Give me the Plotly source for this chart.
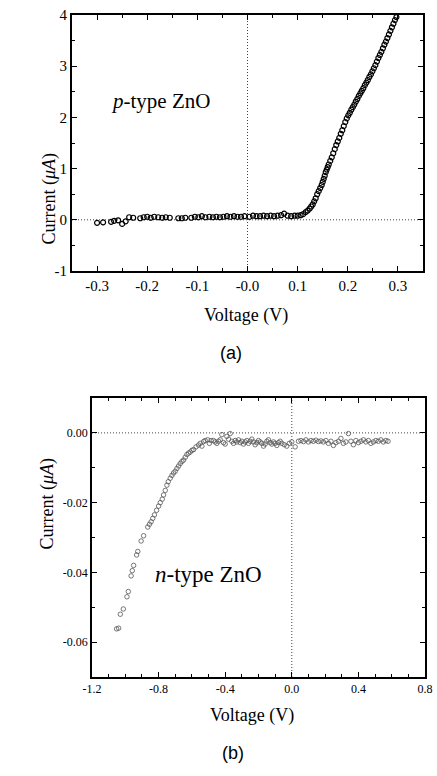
import plotly.graph_objects as go

# ---------------- Panel (a): p-type ZnO ----------------
voltage_a = [-0.300, -0.288, -0.272, -0.266, -0.258, -0.250, -0.243, -0.236, -0.228, -0.214,
             -0.207, -0.200, -0.193, -0.186, -0.178, -0.170, -0.163, -0.155, -0.138, -0.131,
             -0.124, -0.112, -0.105, -0.098, -0.091, -0.084, -0.076, -0.069, -0.062, -0.055,
             -0.048, -0.041, -0.034, -0.027, -0.020, -0.013, -0.006, 0.004, 0.011, 0.018,
             0.025, 0.032, 0.039, 0.046, 0.053, 0.060, 0.067, 0.073, 0.080, 0.087,
             0.094, 0.100, 0.106, 0.111, 0.116, 0.120, 0.124, 0.127, 0.130, 0.133,
             0.136, 0.139, 0.142, 0.145, 0.148, 0.150, 0.152, 0.154, 0.156, 0.158,
             0.160, 0.162, 0.165, 0.168, 0.171, 0.174, 0.177, 0.180, 0.183, 0.186,
             0.189, 0.192, 0.195, 0.198, 0.201, 0.204, 0.207, 0.210, 0.213, 0.216,
             0.219, 0.222, 0.225, 0.228, 0.231, 0.234, 0.237, 0.240, 0.243, 0.246,
             0.249, 0.252, 0.255, 0.258, 0.261, 0.264, 0.267, 0.270, 0.273, 0.276,
             0.279, 0.282, 0.285, 0.288, 0.291, 0.294, 0.297]
current_a = [-0.06, -0.05, -0.04, -0.02, -0.01, -0.08, -0.03, 0.05, 0.04, 0.03,
             0.05, 0.06, 0.04, 0.06, 0.05, 0.04, 0.05, 0.04, 0.03, 0.03,
             0.04, 0.04, 0.06, 0.05, 0.07, 0.05, 0.06, 0.05, 0.06, 0.05,
             0.06, 0.07, 0.06, 0.07, 0.06, 0.06, 0.07, 0.06, 0.08, 0.07,
             0.07, 0.08, 0.07, 0.08, 0.07, 0.08, 0.09, 0.12, 0.08, 0.07,
             0.08, 0.08, 0.09, 0.11, 0.15, 0.18, 0.22, 0.26, 0.30, 0.36,
             0.42, 0.50, 0.56, 0.62, 0.68, 0.74, 0.80, 0.86, 0.93, 0.98,
             1.03, 1.08, 1.15, 1.22, 1.30, 1.38, 1.46, 1.53, 1.60, 1.68,
             1.75, 1.83, 1.91, 1.98, 2.04, 2.09, 2.15, 2.20, 2.25, 2.31,
             2.36, 2.42, 2.47, 2.52, 2.57, 2.63, 2.68, 2.73, 2.79, 2.84,
             2.90, 2.96, 3.02, 3.09, 3.16, 3.22, 3.28, 3.35, 3.42, 3.48,
             3.55, 3.62, 3.69, 3.76, 3.83, 3.90, 3.96]

xtick_vals_a = [-0.3, -0.2, -0.1, 0.0, 0.1, 0.2, 0.3]
xtick_text_a = ["-0.3", "-0.2", "-0.1", "-0.0", "0.1", "0.2", "0.3"]
ytick_vals_a = [-1, 0, 1, 2, 3, 4]
ytick_text_a = ["-1", "0", "1", "2", "3", "4"]

# ---------------- Panel (b): n-type ZnO ----------------
voltage_b = [-1.052, -1.040, -1.030, -1.012, -0.990, -0.982, -0.965, -0.958, -0.950, -0.932,
             -0.925, -0.905, -0.890, -0.865, -0.855, -0.845, -0.835, -0.825, -0.812, -0.800,
             -0.790, -0.778, -0.770, -0.760, -0.750, -0.742, -0.730, -0.720, -0.710, -0.700,
             -0.690, -0.680, -0.670, -0.660, -0.650, -0.640, -0.630, -0.620, -0.610, -0.600,
             -0.590, -0.575, -0.560, -0.550, -0.540, -0.530, -0.520, -0.505, -0.495, -0.485,
             -0.470, -0.460, -0.450, -0.440, -0.430, -0.420, -0.410, -0.400, -0.390, -0.380,
             -0.370, -0.360, -0.350, -0.340, -0.330, -0.320, -0.310, -0.300, -0.290, -0.280,
             -0.270, -0.260, -0.250, -0.240, -0.230, -0.220, -0.210, -0.200, -0.190, -0.180,
             -0.170, -0.160, -0.150, -0.140, -0.130, -0.120, -0.110, -0.100, -0.090, -0.080,
             -0.070, -0.060, -0.045, -0.030, -0.015, 0.000, 0.020, 0.040, 0.055, 0.070,
             0.085, 0.100, 0.115, 0.130, 0.145, 0.160, 0.175, 0.190, 0.205, 0.220,
             0.235, 0.250, 0.265, 0.280, 0.295, 0.310, 0.325, 0.340, 0.355, 0.370,
             0.385, 0.400, 0.415, 0.430, 0.445, 0.460, 0.475, 0.490, 0.505, 0.520,
             0.535, 0.550, 0.565, 0.578]
current_b = [-0.0562, -0.0560, -0.0520, -0.0505, -0.0470, -0.0455, -0.0410, -0.0395, -0.0380, -0.0350,
             -0.0340, -0.0310, -0.0295, -0.0270, -0.0262, -0.0255, -0.0245, -0.0235, -0.0222, -0.0210,
             -0.0200, -0.0190, -0.0178, -0.0165, -0.0150, -0.0140, -0.0130, -0.0122, -0.0115, -0.0110,
             -0.0102, -0.0095, -0.0088, -0.0082, -0.0078, -0.0070, -0.0062, -0.0058, -0.0055, -0.0050,
             -0.0048, -0.0040, -0.0035, -0.0030, -0.0038, -0.0025, -0.0022, -0.0020, -0.0030, -0.0022,
             -0.0022, -0.0026, -0.0030, -0.0024, -0.0020, -0.0005, -0.0028, -0.0032, -0.0010, -0.0018,
             -0.0002, -0.0024, -0.0030, -0.0022, -0.0026, -0.0020, -0.0028, -0.0024, -0.0032, -0.0026,
             -0.0022, -0.0030, -0.0024, -0.0018, -0.0026, -0.0034, -0.0028, -0.0022, -0.0026, -0.0030,
             -0.0038, -0.0032, -0.0024, -0.0020, -0.0028, -0.0032, -0.0026, -0.0030, -0.0036, -0.0028,
             -0.0024, -0.0030, -0.0034, -0.0038, -0.0030, -0.0026, -0.0040, -0.0024, -0.0022, -0.0025,
             -0.0020, -0.0026, -0.0022, -0.0024, -0.0021, -0.0025, -0.0023, -0.0026, -0.0022, -0.0030,
             -0.0024, -0.0036, -0.0028, -0.0024, -0.0016, -0.0030, -0.0026, -0.0002, -0.0024, -0.0034,
             -0.0022, -0.0028, -0.0024, -0.0020, -0.0026, -0.0022, -0.0030, -0.0026, -0.0022, -0.0024,
             -0.0020, -0.0026, -0.0022, -0.0024]

xtick_vals_b = [-1.2, -0.8, -0.4, 0.0, 0.4, 0.8]
xtick_text_b = ["-1.2", "-0.8", "-0.4", "0.0", "0.4", "0.8"]
ytick_vals_b = [-0.06, -0.04, -0.02, 0.0]
ytick_text_b = ["-0.06", "-0.04", "-0.02", "0.00"]

W, H = 437, 776
SERIF = "Liberation Serif"
SANS = "Liberation Sans"

def px(x):
    return x / W

def py(y):
    return 1 - y / H

fig = go.Figure()

fig.add_trace(go.Scatter(
    x=voltage_a, y=current_a, mode="markers", xaxis="x", yaxis="y",
    marker=dict(symbol="circle-open", size=5, color="black", line=dict(width=1.2, color="black")),
    showlegend=False,
))
fig.add_trace(go.Scatter(
    x=voltage_b, y=current_b, mode="markers", xaxis="x2", yaxis="y2",
    marker=dict(symbol="circle-open", size=4.5, color="#555555", line=dict(width=0.8, color="#555555")),
    showlegend=False,
))

axis_common = dict(
    showline=True, linecolor="black", linewidth=1.8, mirror="ticks",
    ticks="inside", ticklen=5, tickwidth=1.3, tickcolor="black",
    showgrid=False, zeroline=False, tickmode="array", automargin=False,
)

fig.update_layout(
    template="none",
    width=W, height=H,
    margin=dict(l=0, r=0, t=0, b=0, autoexpand=False),
    paper_bgcolor="white", plot_bgcolor="white",
    font=dict(family=SERIF, color="black"),
    xaxis=dict(
        **axis_common, domain=[px(72), px(423)], anchor="y", range=[-0.35, 0.35],
        tickvals=xtick_vals_a, ticktext=xtick_text_a,
        tickfont=dict(family=SERIF, size=15),
        minor=dict(tickmode="linear", tick0=0, dtick=0.05, ticks="inside", ticklen=3, tickcolor="black"),
    ),
    yaxis=dict(
        **axis_common, domain=[py(271), py(15)], anchor="x", range=[-1, 4],
        tickvals=ytick_vals_a, ticktext=ytick_text_a,
        tickfont=dict(family=SERIF, size=15),
        minor=dict(tickmode="linear", tick0=0, dtick=0.5, ticks="inside", ticklen=3, tickcolor="black"),
    ),
    xaxis2=dict(
        **axis_common, domain=[px(92), px(425)], anchor="y2", range=[-1.2, 0.8],
        tickvals=xtick_vals_b, ticktext=xtick_text_b,
        tickfont=dict(family=SERIF, size=12),
        minor=dict(tickmode="linear", tick0=0, dtick=0.1, ticks="inside", ticklen=3, tickcolor="black"),
    ),
    yaxis2=dict(
        **axis_common, domain=[py(677), py(398)], anchor="x2", range=[-0.07, 0.01],
        tickvals=ytick_vals_b, ticktext=ytick_text_b,
        tickfont=dict(family=SERIF, size=12),
        minor=dict(tickmode="linear", tick0=0, dtick=0.01, ticks="inside", ticklen=3, tickcolor="black"),
    ),
)

# dotted reference lines at zero
dot = dict(color="#444444", width=1, dash="1px,2px")
fig.add_shape(type="line", xref="x", yref="y", x0=-0.35, x1=0.35, y0=0, y1=0, line=dot, layer="below")
fig.add_shape(type="line", xref="x", yref="y", x0=0, x1=0, y0=-1, y1=4, line=dot, layer="below")
fig.add_shape(type="line", xref="x2", yref="y2", x0=-1.2, x1=0.8, y0=0, y1=0, line=dot, layer="below")
fig.add_shape(type="line", xref="x2", yref="y2", x0=0, x1=0, y0=-0.07, y1=0.01, line=dot, layer="below")

ann = []
# panel (a)
ann.append(dict(text="Current (<i>μA</i>)", x=px(37), y=py(151), xref="paper", yref="paper",
                textangle=-90, showarrow=False, font=dict(family=SERIF, size=18)))
ann.append(dict(text="Voltage (V)", x=px(246), y=py(315), xref="paper", yref="paper",
                showarrow=False, font=dict(family=SERIF, size=18)))
ann.append(dict(text="(a)", x=px(231), y=py(353), xref="paper", yref="paper",
                showarrow=False, font=dict(family=SANS, size=18)))
ann.append(dict(text="<i>p</i>-type ZnO", x=-0.174, y=2.33, xref="x", yref="y",
                showarrow=False, font=dict(family=SERIF, size=21)))
# panel (b)
ann.append(dict(text="Current (<i>μA</i>)", x=px(34), y=py(552), xref="paper", yref="paper",
                textangle=-90, showarrow=False, font=dict(family=SERIF, size=18)))
ann.append(dict(text="Voltage (V)", x=px(252), y=py(728), xref="paper", yref="paper",
                showarrow=False, font=dict(family=SERIF, size=18)))
ann.append(dict(text="(b)", x=px(233), y=py(765), xref="paper", yref="paper",
                showarrow=False, font=dict(family=SANS, size=18)))
ann.append(dict(text="<i>n</i>-type ZnO", x=-0.50, y=-0.0405, xref="x2", yref="y2",
                showarrow=False, font=dict(family=SERIF, size=23)))
fig.update_layout(annotations=ann)

fig.write_html(
    "out.html",
    config={"displayModeBar": False},
    post_script="document.body.style.margin='0';document.body.style.padding='0';",
)
